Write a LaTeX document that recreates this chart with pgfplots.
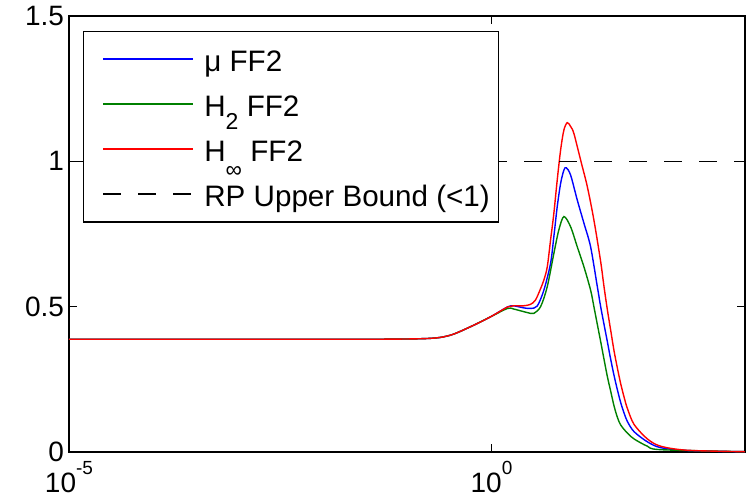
\documentclass[border=0pt]{standalone}
\usepackage{fontspec}
\setmainfont{Liberation Sans}
\usepackage{pgfplots}
\pgfplotsset{compat=1.18}
\definecolor{mblue}{rgb}{0,0,1}
\definecolor{mgreen}{rgb}{0,0.5,0}
\definecolor{mred}{rgb}{1,0,0}
\newcommand{\lblfont}{\fontsize{14}{17}\selectfont}
\newcommand{\legfont}{\fontsize{14.8}{17}\selectfont}
\newcommand{\expo}[1]{\raisebox{9pt}{\fontsize{9.5}{10}\selectfont #1}}
\newcommand{\lowr}[2]{\raisebox{#1}{\fontsize{11.5}{12}\selectfont #2}}
\begin{document}
\begin{tikzpicture}
\path[use as bounding box] (-34.5pt,-23.5pt) rectangle (342.5pt,226pt);
\begin{axis}[
    at={(0pt,0pt)}, anchor=south west,
    scale only axis, width=338pt, height=218pt,
    xmode=log, xmin=1e-5, xmax=1e3,
    ymin=0, ymax=1.5,
    xtick={1e-5,1}, xticklabels={10\expo{-5},10\expo{0}},
    ytick={0,0.5,1,1.5}, yticklabels={0,0.5,1,1.5},
    xminorticks=false, yminorticks=false,
    tick align=inside, xtick pos=both, ytick pos=both,
    major tick length=4pt,
    axis line style={line width=0.75pt},
    tick style={line width=0.75pt, black},
    ticklabel style={font=\lblfont},
    xticklabel style={yshift=-1pt},
    yticklabel style={xshift=1pt},
    legend cell align=left,
    legend style={
        at={(axis description cs:0.0203,0.9656)}, anchor=north west,
        draw=black, line width=0.75pt, font=\legfont,
        inner xsep=4.35pt, inner ysep=6.75pt,
        row sep=8.5pt,
        nodes={inner sep=0pt, text height=13pt, text depth=1pt},
        /tikz/every odd column/.append style={column sep=5.2pt},
    },
    legend image code/.code={
        \path (0pt,0pt);
        \draw[#1, line width=0.8pt] (5.15pt,0pt) -- (50.15pt,0pt);
    },
]
% mu FF2
\addplot[color=mblue, draw=mblue, line width=0.7pt, smooth] coordinates {
    (1e-5,0.388) (5e-3,0.388) (0.0484,0.388) (0.189,0.391) (0.327,0.402)
    (0.564,0.431) (0.973,0.465) (1.549,0.499) (1.824,0.503) (2.393,0.496)
    (2.897,0.494) (3.475,0.502) (4.169,0.557) (5.000,0.649) (5.470,0.741)
    (5.998,0.844) (6.577,0.924) (7.194,0.970) (7.674,0.978) (8.630,0.953)
    (10.35,0.867) (12.42,0.787) (14.89,0.706) (17.86,0.57) (19.59,0.50)
    (21.43,0.44) (23.49,0.38) (25.70,0.32) (28.12,0.265) (30.83,0.215)
    (33.81,0.17) (36.98,0.135) (40.55,0.105) (48.64,0.07) (69.98,0.035)
    (100.5,0.015) (208.4,0.005) (1000,0.001)
};
\addlegendentry{μ FF2}
% H2 FF2
\addplot[color=mgreen, draw=mgreen, line width=0.7pt, smooth] coordinates {
    (1e-5,0.388) (5e-3,0.388) (0.0484,0.388) (0.189,0.391) (0.327,0.402)
    (0.564,0.431) (0.973,0.465) (1.549,0.494) (1.824,0.492) (2.393,0.483)
    (2.897,0.477) (3.170,0.477) (3.811,0.500) (4.571,0.569) (5.470,0.683)
    (6.266,0.764) (7.194,0.810) (8.630,0.775) (10.35,0.706) (12.42,0.637)
    (14.89,0.557) (16.29,0.50) (17.86,0.44) (19.59,0.38) (21.43,0.32)
    (23.49,0.26) (25.70,0.21) (28.12,0.16) (30.83,0.12) (33.81,0.093)
    (40.55,0.065) (48.64,0.045) (69.98,0.02) (100.5,0.008) (1000,0.001)
};
\addlegendentry{H\lowr{-6.5pt}{2} FF2}
% Hinf FF2
\addplot[color=mred, draw=mred, line width=0.7pt, smooth] coordinates {
    (1e-5,0.388) (5e-3,0.388) (0.0484,0.388) (0.189,0.391) (0.327,0.402)
    (0.564,0.431) (0.973,0.465) (1.549,0.499) (1.824,0.503) (2.393,0.503)
    (2.897,0.508) (3.319,0.523) (3.811,0.562) (4.169,0.592) (4.571,0.637)
    (5.000,0.729) (5.470,0.821) (5.998,0.936) (6.577,1.039) (7.194,1.108)
    (7.889,1.133) (8.630,1.120) (9.441,1.096) (11.35,1.004) (13.61,0.913)
    (16.29,0.798) (19.59,0.655) (21.43,0.57) (23.49,0.49) (25.70,0.42)
    (28.12,0.35) (30.83,0.29) (33.81,0.235) (36.98,0.19) (40.55,0.15)
    (48.64,0.095) (69.98,0.045) (100.5,0.02) (208.4,0.006) (1000,0.001)
};
\addlegendentry{H\lowr{-8pt}{∞} FF2}
% bound
\addplot[color=black, line width=0.7pt, dash pattern=on 9pt off 8.5pt] coordinates {
    (1e-5,1) (1000,1)
};
\addlegendentry{RP Upper Bound (<1)}
\end{axis}
\end{tikzpicture}
\end{document}
